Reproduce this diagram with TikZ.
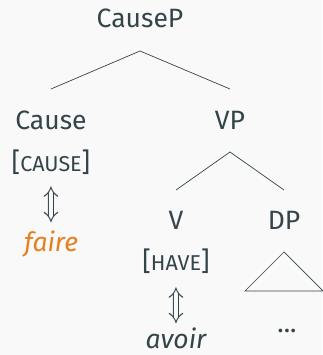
\documentclass[tikz,border=0pt]{standalone}
\usepackage{fontspec}
\setmainfont{Fira Sans}
\definecolor{ink}{HTML}{34454A}
\definecolor{accent}{HTML}{E6801E}
\definecolor{paper}{HTML}{F9F9F9}
\newcommand{\featsc}[1]{{\fontsize{21.5pt}{24pt}\selectfont #1}}
\begin{document}
\begin{tikzpicture}[x=1pt,y=1pt,
  every node/.style={inner sep=0pt, outer sep=0pt, anchor=base, text=ink,
    font=\fontsize{26.5pt}{30pt}\selectfont},
  branch/.style={draw=ink, line width=0.7pt},
  word/.style={font=\fontsize{26.5pt}{30pt}\selectfont\itshape},
  updown/.style={font=\fontsize{24.88pt}{28pt}\selectfont, anchor=center,
    xscale=1.05, yscale=1.4}]
  % canvas
  \fill[paper] (0,0) rectangle (322,355);
  \useasboundingbox (0,0) rectangle (322,355);

  % labels
  \node (causep) at (140,327) {CauseP};
  \node (cause) at (51,225) {Cause};
  \node (vp) at (230,225) {VP};
  \node (causefeat) at (51,183) {[\featsc{CAUSE}]};
  \node[updown] (arrL) at (51,150) {$\Updownarrow$};
  \node[word, text=accent] (faire) at (51,103) {faire};
  \node (v) at (176,125) {V};
  \node (dp) at (284,125) {DP};
  \node (havefeat) at (176,84) {[\featsc{HAVE}]};
  \node[updown] (arrR) at (176,49) {$\Updownarrow$};
  \node[word] (avoir) at (176,6) {avoir};
  \node (dots) at (287,22) {...};

  % branch points
  \coordinate (cpTop) at (140,304);
  \coordinate (cpL) at (51,266);
  \coordinate (cpR) at (230,266);
  \coordinate (vpTop) at (230,203);
  \coordinate (vpL) at (176,165);
  \coordinate (vpR) at (284,165);
  \coordinate (triTop) at (284,103);
  \coordinate (triL) at (245,64);
  \coordinate (triR) at (323,64);

  % branches
  \draw[branch] (cpL) -- (cpTop) -- (cpR);
  \draw[branch] (vpL) -- (vpTop) -- (vpR);
  \draw[branch, line join=miter] (triL) -- (triTop) -- (triR) -- cycle;
\end{tikzpicture}
\end{document}
